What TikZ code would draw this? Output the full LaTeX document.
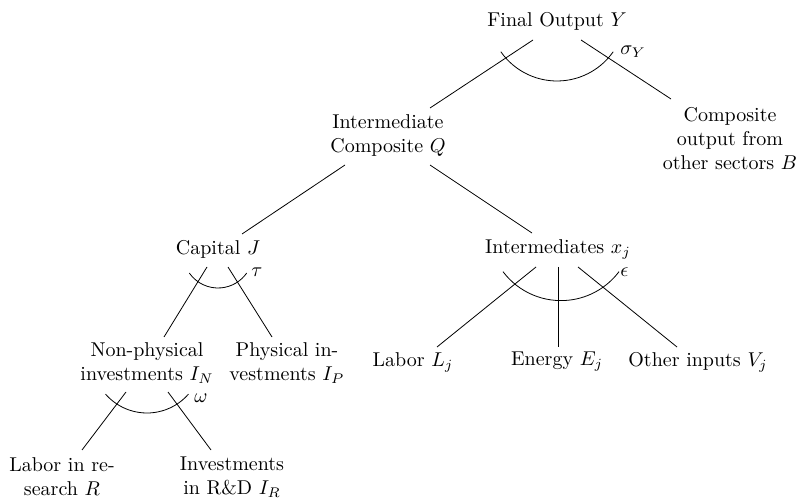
\documentclass[tikz,border=0pt]{standalone}
\usetikzlibrary{calc}
\begin{document}
\begin{tikzpicture}[x=0.5pt,y=-0.5pt,
  lbl/.style={align=center,inner sep=0pt},
  elas/.style={inner sep=0pt,anchor=west},
  edge/.style={line width=0.4pt}]
\useasboundingbox (0,0) rectangle (796,501);
% nodes
\node[lbl] (Y)  at (557,21)  {Final Output $Y$};
\node[lbl] (B)  at (730,139) {Composite\\output from\\other sectors $B$};
\node[lbl] (Q)  at (388,136) {Intermediate\\Composite $Q$};
\node[lbl] (J)  at (218,249) {Capital $J$};
\node[lbl] (X)  at (558,249) {Intermediates $x_j$};
\node[lbl] (IN) at (147,363) {Non-physical\\investments $I_N$};
\node[lbl] (IP) at (287,363) {Physical in-\\vestments $I_P$};
\node[lbl] (L)  at (413,362) {Labor $L_j$};
\node[lbl] (E)  at (557,362) {Energy $E_j$};
\node[lbl] (V)  at (698,362) {Other inputs $V_j$};
\node[lbl] (R)  at (62,477)  {Labor in re-\\search $R$};
\node[lbl] (IR) at (232,477) {Investments\\in R\&D $I_R$};
% connectors
\draw[edge] ($(Y)+(-24,19)$) -- ($(Q)+(42,-28)$);
\draw[edge] ($(Y)+(24,19)$) -- ($(B)+(-59,-40)$);
\draw[edge] ($(Q)+(-43,29)$) -- ($(J)+(24,-15)$);
\draw[edge] ($(Q)+(42,29)$) -- ($(X)+(-26,-16)$);
\draw[edge] ($(J)+(-11,18)$) -- ($(IN)+(17,-26)$);
\draw[edge] ($(J)+(10,18)$) -- ($(IP)+(-15,-26)$);
\draw[edge] ($(X)+(-22,18)$) -- ($(L)+(24,-15)$);
\draw[edge] ($(X)+(0,18)$) -- ($(E)+(1,-15)$);
\draw[edge] ($(X)+(20,18)$) -- ($(V)+(-21,-15)$);
\draw[edge] ($(IN)+(-21,29)$) -- ($(R)+(20,-27)$);
\draw[edge] ($(IN)+(21,29)$) -- ($(IR)+(-21,-27)$);
% elasticity arcs
\draw[edge] ($(557,12.4)+(-145:34.3pt)$) arc[start angle=-145,end angle=-35,radius=34.3pt];
\draw[edge] ($(561,228)+(-143:36.3pt)$) arc[start angle=-143,end angle=-37,radius=36.3pt];
\draw[edge] ($(218,253)+(-145:17.5pt)$) arc[start angle=-145,end angle=-35,radius=17.5pt];
\draw[edge] ($(147,358)+(-139:27.5pt)$) arc[start angle=-139,end angle=-41,radius=27.5pt];
% labels
\node[elas] (sY) at (620,52) {$\sigma_Y$};
\node[elas] (eps) at (620,272) {$\epsilon$};
\node[elas] (tau) at (251,272) {$\tau$};
\node[elas] (om) at (194,398) {$\omega$};
\end{tikzpicture}
\end{document}
